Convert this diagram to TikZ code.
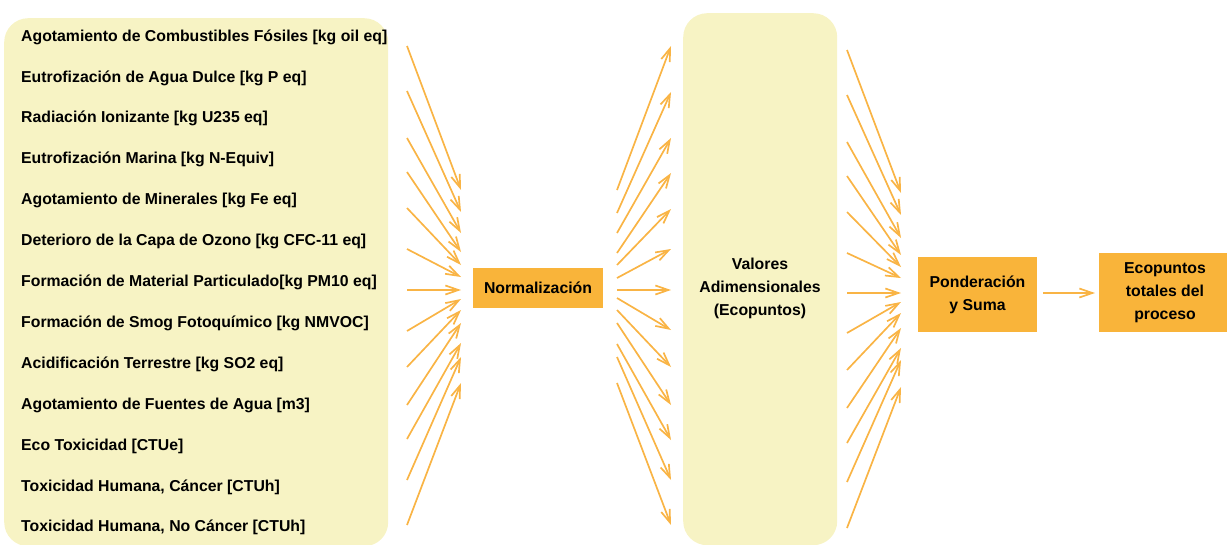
\documentclass[tikz,border=0pt]{standalone}
\usepackage{fontspec}
\setmainfont{Liberation Sans}
\usetikzlibrary{arrows.meta}
\definecolor{paleyellow}{HTML}{F7F3C4}
\definecolor{boxorange}{HTML}{F9B43A}
\definecolor{arroworange}{HTML}{F9B445}
\tikzset{
  panel/.style={fill=paleyellow, draw=none, rounded corners=24pt},
  stagebox/.style={fill=boxorange, draw=none, font=\fontsize{15.8}{23}\selectfont\bfseries, align=center, inner sep=0pt},
  rowtext/.style={anchor=west, font=\fontsize{15.8}{18}\selectfont\bfseries, inner sep=0pt},
  flow/.style={draw=arroworange, line width=1.7pt, -{Straight Barb[length=13pt,width=9pt,line width=1.7pt]}},
}
\begin{document}
\begin{tikzpicture}[x=1pt,y=-1pt]
\useasboundingbox (0,0) rectangle (1227,544);

% input categories panel
\node[panel, minimum width=384pt, minimum height=528pt, anchor=north west] (inputs) at (4,18) {};
\foreach \t [count=\i] in {
  {Agotamiento de Combustibles Fósiles [kg oil eq]},
  {Eutrofización de Agua Dulce [kg P eq]},
  {Radiación Ionizante [kg U235 eq]},
  {Eutrofización Marina [kg N-Equiv]},
  {Agotamiento de Minerales [kg Fe eq]},
  {Deterioro de la Capa de Ozono [kg CFC-11 eq]},
  {Formación de Material Particulado[kg PM10 eq]},
  {Formación de Smog Fotoquímico [kg NMVOC]},
  {Acidificación Terrestre [kg SO2 eq]},
  {Agotamiento de Fuentes de Agua [m3]},
  {Eco Toxicidad [CTUe]},
  {Toxicidad Humana, Cáncer [CTUh]},
  {Toxicidad Humana, No Cáncer [CTUh]}}
  \node[rowtext] (r\i) at (21, {37+40.9*(\i-1)}) {\t};

% processing stages
\node[stagebox, minimum width=130pt, minimum height=40pt] (norm) at (538,288) {Normalización};
\node[panel, minimum width=154pt, minimum height=532pt, anchor=north west] (valores) at (683,13) {};
\node[font=\fontsize{15.8}{23}\selectfont\bfseries, align=center] (valtext) at (760,288) {Valores\\Adimensionales\\(Ecopuntos)};
\node[stagebox, minimum width=119pt, minimum height=75pt] (pond) at (977.5,294.5) {Ponderación\\y Suma};
\node[stagebox, minimum width=132pt, minimum height=79pt] (eco) at (1165,292.5) {Ecopuntos\\totales del\\proceso};

% fan of arrows: categories -> normalization
\foreach \ys/\ye [count=\i] in {46/190, 91/212, 138/233, 172/252, 208/265, 249/277, 290/290, 331/299, 367/310, 405/323, 439/343, 480/357, 525/383} {
  \coordinate (a\i) at (407,\ys);
  \coordinate (b\i) at (461,\ye);
  \draw[flow] (a\i) -- (b\i);
}
% normalization -> dimensionless values
\foreach \ys/\ye [count=\i] in {190/46, 213/92, 233/138, 253/173, 265/209, 278/249, 290/290, 298/330, 310/367, 323/405, 344/440, 357/480, 383/525} {
  \coordinate (c\i) at (617,\ys);
  \coordinate (d\i) at (671,\ye);
  \draw[flow] (c\i) -- (d\i);
}
% dimensionless values -> weighting
\foreach \ys/\ye [count=\i] in {50/193, 95/215, 142/238, 176/255, 212/267, 253/278, 293/293, 333/302, 370/313, 408/328, 443/348, 482/360, 528/387} {
  \coordinate (e\i) at (847,\ys);
  \coordinate (f\i) at (901,\ye);
  \draw[flow] (e\i) -- (f\i);
}
% weighting -> total ecopoints
\coordinate (p) at (1043,293);
\coordinate (q) at (1095,293);
\draw[flow] (p) -- (q);
\end{tikzpicture}
\end{document}
